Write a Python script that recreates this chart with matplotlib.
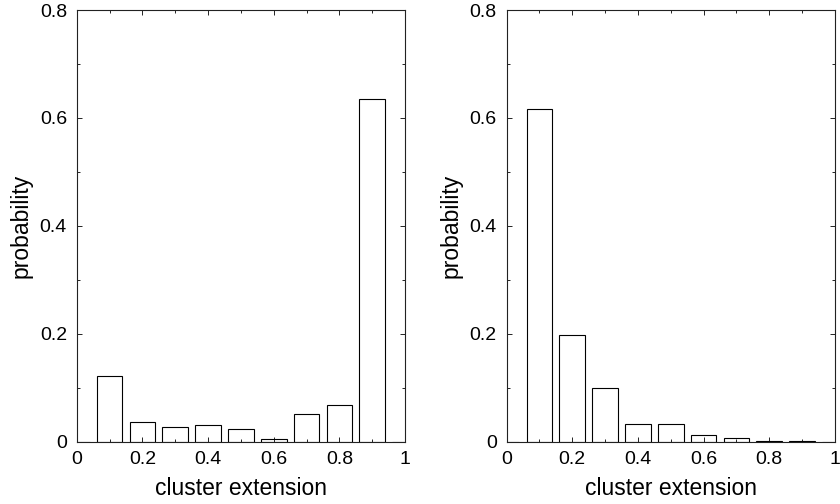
import numpy as np
import matplotlib
matplotlib.use('Agg')
import matplotlib.pyplot as plt
from matplotlib.ticker import MultipleLocator

plt.rcParams['font.family'] = ['Liberation Sans', 'DejaVu Sans']

# bin centres (cluster extension) and probabilities
bins = [0.0, 0.1, 0.2, 0.3, 0.4, 0.5, 0.6, 0.7, 0.8, 0.9, 1.0]
prob_left = [0.0, 0.122, 0.036, 0.026, 0.030, 0.023, 0.004, 0.051, 0.068, 0.635, 0.0]
prob_right = [0.0, 0.616, 0.197, 0.100, 0.033, 0.033, 0.012, 0.007, 0.001, 0.001, 0.0]

xticks = [0, 0.2, 0.4, 0.6, 0.8, 1.0]
xticklabels = ['0', '0.2', '0.4', '0.6', '0.8', '1']
yticks = [0, 0.2, 0.4, 0.6, 0.8]
yticklabels = ['0', '0.2', '0.4', '0.6', '0.8']

fig = plt.figure(figsize=(8.4, 5.04), dpi=100)
ax1 = fig.add_axes([0.0913, 0.124, 0.391, 0.856])
ax2 = fig.add_axes([0.603, 0.124, 0.391, 0.856])

for ax, vals in [(ax1, prob_left), (ax2, prob_right)]:
    ax.bar(bins, vals, width=0.078, color='white', edgecolor='black', linewidth=0.8)
    ax.set_xlim(0, 1)
    ax.set_ylim(0, 0.8)
    ax.set_xticks(xticks)
    ax.set_xticklabels(xticklabels)
    ax.set_yticks(yticks)
    ax.set_yticklabels(yticklabels)
    ax.xaxis.set_minor_locator(MultipleLocator(0.1))
    ax.yaxis.set_minor_locator(MultipleLocator(0.1))
    ax.tick_params(which='both', direction='in', top=True, right=True,
                   labelsize=14, width=0.6)
    ax.tick_params(axis='x', which='both', pad=7)
    ax.tick_params(axis='y', which='both', pad=7)
    ax.tick_params(which='major', length=3.5)
    ax.tick_params(which='minor', length=2)
    for s in ax.spines.values():
        s.set_linewidth(0.8)
        s.set_color('#222222')
    ax.set_xlabel('cluster extension', fontsize=16.5, labelpad=6)
    ax.set_ylabel('probability', fontsize=16.5)
    ax.yaxis.set_label_coords(-0.135, 0.5)

fig.savefig('out.png', dpi=100)
